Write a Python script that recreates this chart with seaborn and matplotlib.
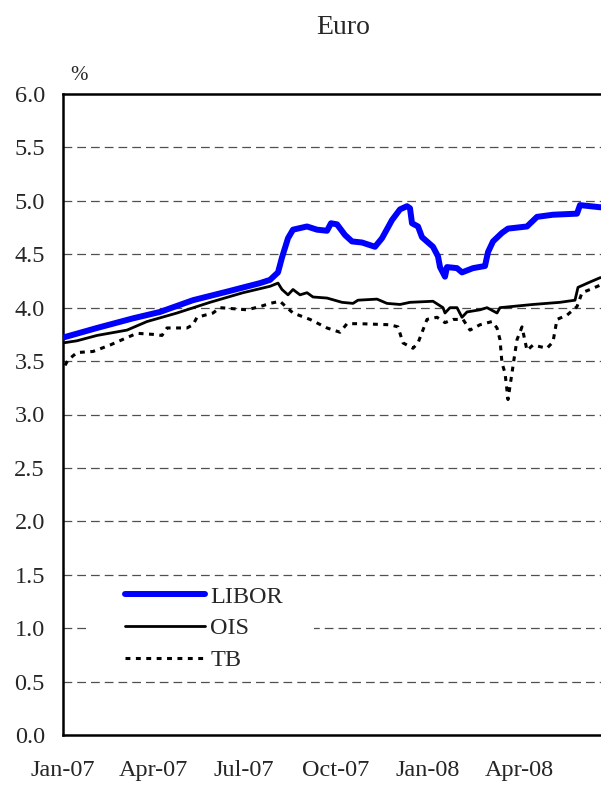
import pandas as pd
import matplotlib.pyplot as plt
import matplotlib.dates as mdates
from matplotlib.patches import Rectangle
import seaborn as sns

# values (%)
libor_dates = ["2007-01-01", "2007-02-04", "2007-03-12", "2007-04-08", "2007-05-11", "2007-06-14",
               "2007-07-17", "2007-07-27", "2007-08-04", "2007-08-08", "2007-08-14", "2007-08-19",
               "2007-09-02", "2007-09-12", "2007-09-22", "2007-09-26", "2007-10-02", "2007-10-10",
               "2007-10-17", "2007-10-27", "2007-11-09", "2007-11-16", "2007-11-26", "2007-12-04",
               "2007-12-11", "2007-12-14", "2007-12-16", "2007-12-22", "2007-12-26", "2008-01-06",
               "2008-01-11", "2008-01-13", "2008-01-18", "2008-01-20", "2008-01-30", "2008-02-04",
               "2008-02-15", "2008-02-27", "2008-03-01", "2008-03-06", "2008-03-15", "2008-03-21",
               "2008-04-09", "2008-04-19", "2008-05-05", "2008-05-29", "2008-06-01", "2008-06-21",
               "2008-06-29"]
libor = [3.72, 3.81, 3.90, 3.96, 4.07, 4.15,
         4.23, 4.26, 4.33, 4.47, 4.65, 4.73,
         4.76, 4.73, 4.72, 4.79, 4.78, 4.68,
         4.62, 4.61, 4.57, 4.65, 4.82, 4.92,
         4.95, 4.93, 4.79, 4.76, 4.66, 4.57,
         4.48, 4.38, 4.29, 4.38, 4.37, 4.33,
         4.37, 4.39, 4.52, 4.62, 4.70, 4.74,
         4.76, 4.85, 4.87, 4.88, 4.96, 4.94,
         4.94]

ois_dates = ["2007-01-01", "2007-01-15", "2007-02-04", "2007-03-06", "2007-03-26", "2007-04-25",
             "2007-05-28", "2007-06-30", "2007-07-27", "2007-08-04", "2007-08-08", "2007-08-14",
             "2007-08-19", "2007-08-26", "2007-09-02", "2007-09-08", "2007-09-22", "2007-10-07",
             "2007-10-18", "2007-10-23", "2007-11-11", "2007-11-21", "2007-12-04", "2007-12-14",
             "2008-01-06", "2008-01-16", "2008-01-18", "2008-01-23", "2008-01-30", "2008-02-04",
             "2008-02-09", "2008-02-22", "2008-02-29", "2008-03-10", "2008-03-13", "2008-04-15",
             "2008-05-12", "2008-05-27", "2008-05-30", "2008-06-11", "2008-06-21", "2008-06-29"]
ois = [3.67, 3.69, 3.74, 3.79, 3.87, 3.95,
       4.05, 4.14, 4.20, 4.23, 4.17, 4.12,
       4.17, 4.12, 4.14, 4.10, 4.09, 4.05,
       4.04, 4.07, 4.08, 4.04, 4.03, 4.05,
       4.06, 4.00, 3.95, 4.00, 4.00, 3.91,
       3.96, 3.98, 4.00, 3.95, 4.00, 4.03,
       4.05, 4.07, 4.19, 4.24, 4.28, 4.29]

tb_dates = ["2007-01-03", "2007-01-06", "2007-01-15", "2007-01-31", "2007-02-17", "2007-03-06",
            "2007-03-16", "2007-04-01", "2007-04-10", "2007-04-15", "2007-05-05", "2007-05-11",
            "2007-05-15", "2007-05-31", "2007-06-07", "2007-07-04", "2007-07-17", "2007-07-27",
            "2007-08-06", "2007-08-13", "2007-08-19", "2007-09-05", "2007-09-22", "2007-10-05",
            "2007-10-12", "2007-10-25", "2007-11-24", "2007-12-02", "2007-12-07", "2007-12-17",
            "2007-12-22", "2007-12-31", "2008-01-10", "2008-01-18", "2008-01-26", "2008-02-05",
            "2008-02-12", "2008-02-22", "2008-03-05", "2008-03-10", "2008-03-13", "2008-03-15",
            "2008-03-18", "2008-03-21", "2008-03-25", "2008-03-28", "2008-03-30", "2008-04-04",
            "2008-04-09", "2008-04-15", "2008-04-29", "2008-05-05", "2008-05-09", "2008-05-19",
            "2008-05-29", "2008-06-03", "2008-06-11", "2008-06-21", "2008-06-29"]
tb = [3.46, 3.51, 3.58, 3.59, 3.65, 3.72,
      3.76, 3.75, 3.74, 3.81, 3.81, 3.84,
      3.91, 3.95, 4.00, 3.98, 4.01, 4.04,
      4.06, 4.00, 3.95, 3.89, 3.81, 3.77,
      3.85, 3.85, 3.84, 3.82, 3.67, 3.62,
      3.67, 3.89, 3.91, 3.86, 3.89, 3.89,
      3.79, 3.84, 3.87, 3.81, 3.70, 3.48,
      3.39, 3.14, 3.39, 3.58, 3.70, 3.82,
      3.60, 3.65, 3.62, 3.68, 3.89, 3.93,
      4.01, 4.14, 4.17, 4.21, 4.22]

tick_dates = ["2007-01-01", "2007-04-01", "2007-07-01", "2007-10-01", "2008-01-01", "2008-04-01"]

sns.set_style("white")
plt.rcParams["font.family"] = ["Liberation Serif", "DejaVu Serif"]

fig = plt.figure(figsize=(6.01, 7.85), dpi=100)
ax = fig.add_axes([63 / 601, 50 / 785, 538 / 601, 641 / 785])

sns.lineplot(x=pd.to_datetime(libor_dates), y=libor, ax=ax, color="#0000FF", linewidth=4.3,
             label="LIBOR", solid_capstyle="round", zorder=4)
sns.lineplot(x=pd.to_datetime(ois_dates), y=ois, ax=ax, color="black", linewidth=2.0,
             label="OIS", zorder=3)
sns.lineplot(x=pd.to_datetime(tb_dates), y=tb, ax=ax, color="black", linewidth=2.2,
             linestyle=(0, (1.6, 1.8)), label="TB", zorder=3)

ax.set_ylim(0, 6)
ax.set_xlim(pd.Timestamp("2007-01-01"), pd.Timestamp("2008-06-22"))
ax.set_yticks([0, 0.5, 1, 1.5, 2, 2.5, 3, 3.5, 4, 4.5, 5, 5.5, 6])
ax.yaxis.set_major_formatter(plt.FuncFormatter(lambda v, p: f"{v:.1f}"))
ax.set_xticks(pd.to_datetime(tick_dates))
ax.xaxis.set_major_formatter(mdates.DateFormatter("%b-%y"))
ax.tick_params(axis="y", length=0, pad=13, labelsize=17.5)
ax.tick_params(axis="x", length=6, width=1.5, direction="out", pad=12, labelsize=17.5, color="black")
ax.set_xlabel("")
ax.set_ylabel("")

for y in [0.5, 1, 1.5, 2, 2.5, 3, 3.5, 4, 4.5, 5, 5.5]:
    ax.axhline(y, color="#505050", linewidth=0.9, linestyle=(0, (7, 4)), zorder=0.5)

for side in ["left", "bottom", "top"]:
    ax.spines[side].set_color("black")
    ax.spines[side].set_linewidth(1.8)
ax.spines["right"].set_visible(False)

# white block behind the legend that breaks the 1.0 gridline
ax.add_patch(Rectangle((25 / 538, 0.9), 226 / 538, 0.2, transform=ax.get_yaxis_transform(),
                       facecolor="white", edgecolor="none", zorder=1))

ax.legend(loc="upper left", bbox_to_anchor=(62 / 538, 0.233), frameon=False, fontsize=17.5,
          handlelength=3.3, handletextpad=0.2, labelspacing=0.4, borderpad=0, borderaxespad=0)

fig.text(343 / 601, 1 - 27 / 785, "Euro", ha="center", va="center", fontsize=20)
fig.text(79 / 601, 1 - 76 / 785, "%", ha="center", va="center", fontsize=15)

plt.savefig("out.png", dpi=100)
